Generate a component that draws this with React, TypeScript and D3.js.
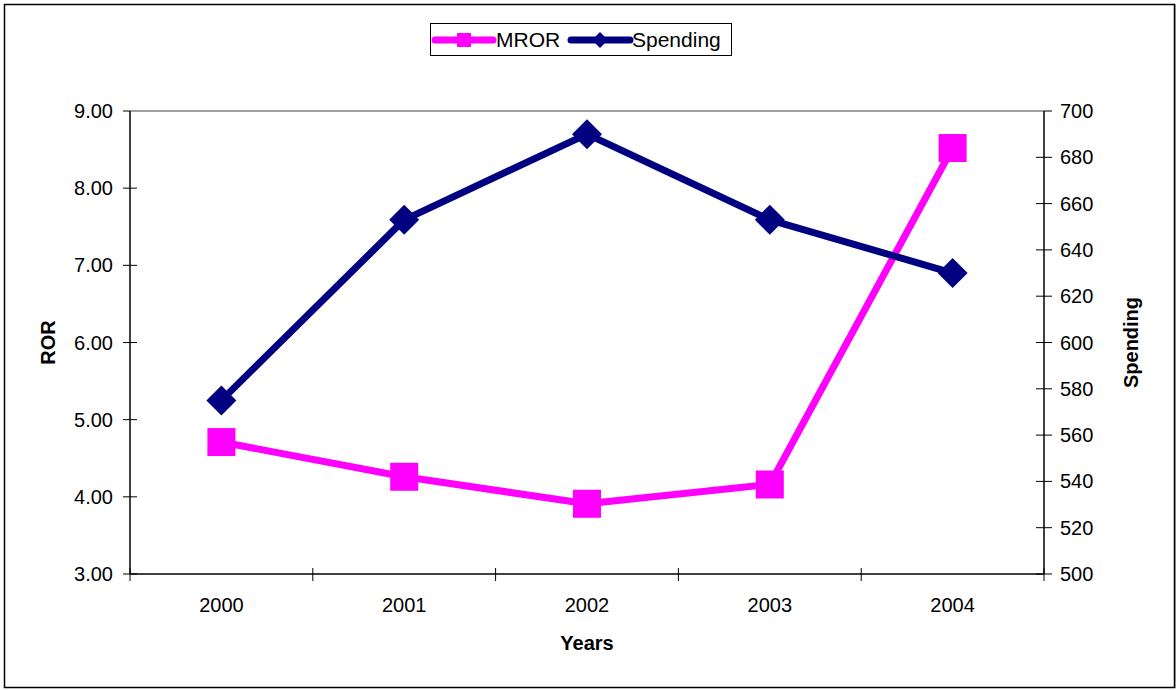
import React from "react";
import * as d3 from "d3";

const years = ["2000", "2001", "2002", "2003", "2004"];
const mror = [4.71, 4.26, 3.91, 4.16, 8.52];
const spending = [575, 653, 690, 653, 630];
const leftTicks = [3, 4, 5, 6, 7, 8, 9];
const rightTicks = [500, 520, 540, 560, 580, 600, 620, 640, 660, 680, 700];

const W = 1176;
const H = 690;
const L = 130, R = 1044, T = 111, B = 574;
const FONT = "'Liberation Sans', Arial, sans-serif";
const MAG = "#ff00ff";
const NAVY = "#000080";

export default function App() {
  const x = d3.scaleBand<string>().domain(years).range([L, R]);
  const yL = d3.scaleLinear().domain([3, 9]).range([B, T]);
  const yR = d3.scaleLinear().domain([500, 700]).range([B, T]);
  const cx = (y: string) => (x(y) as number) + x.bandwidth() / 2;

  const lineL = d3.line<number>().x((_, i) => cx(years[i])).y((d) => yL(d));
  const lineR = d3.line<number>().x((_, i) => cx(years[i])).y((d) => yR(d));

  const boundaries = years.map((y) => x(y) as number).concat([R]);
  const sq = 28;
  const dia = 15;

  return (
    <svg width={W} height={H} style={{ position: "absolute", left: 0, top: 0, background: "#fff" }} fontFamily={FONT}>
      <rect x={1175} y={4} width={1} height={684} fill="#bbb" />
      <rect x={4.5} y={4.5} width={1170} height={683} fill="#fff" stroke="#000" strokeWidth={1.5} />
      {/* plot top border */}
      <line x1={L} x2={R} y1={T} y2={T} stroke="#808080" strokeWidth={1.5} />
      {/* axes */}
      <line x1={L} x2={L} y1={T} y2={B} stroke="#000" strokeWidth={1.5} />
      <line x1={R} x2={R} y1={T} y2={B} stroke="#000" strokeWidth={1.5} />
      <line x1={L} x2={R} y1={B} y2={B} stroke="#000" strokeWidth={1.5} />
      {leftTicks.map((t) => (
        <g key={"l" + t}>
          <line x1={L - 7} x2={t === 9 ? L : L + 7} y1={yL(t)} y2={yL(t)} stroke="#000" strokeWidth={1} />
          <text x={L - 17} y={yL(t)} dy="0.35em" textAnchor="end" fontSize={20}>{t.toFixed(2)}</text>
        </g>
      ))}
      {rightTicks.map((t) => (
        <g key={"r" + t}>
          <line x1={t === 700 ? R : R - 8} x2={R + 8} y1={yR(t)} y2={yR(t)} stroke="#000" strokeWidth={1} />
          <text x={R + 16} y={yR(t)} dy="0.35em" textAnchor="start" fontSize={20}>{t}</text>
        </g>
      ))}
      {boundaries.map((b, i) => (
        <line key={"b" + i} x1={b} x2={b} y1={B - 6} y2={B + 7} stroke="#000" strokeWidth={1} />
      ))}
      {years.map((y) => (
        <text key={y} x={cx(y)} y={612} textAnchor="middle" fontSize={20}>{y}</text>
      ))}
      <text x={(L + R) / 2} y={650} textAnchor="middle" fontSize={20} fontWeight="bold">Years</text>
      <text transform={`translate(55,${(T + B) / 2}) rotate(-90)`} textAnchor="middle" fontSize={20} fontWeight="bold">ROR</text>
      <text transform={`translate(1138,${(T + B) / 2}) rotate(-90)`} textAnchor="middle" fontSize={20} fontWeight="bold">Spending</text>

      {/* series */}
      <path d={lineL(mror) || ""} fill="none" stroke={MAG} strokeWidth={7} strokeLinejoin="round" />
      {mror.map((v, i) => (
        <rect key={"m" + i} x={cx(years[i]) - sq / 2} y={yL(v) - sq / 2} width={sq} height={sq} fill={MAG} />
      ))}
      <path d={lineR(spending) || ""} fill="none" stroke={NAVY} strokeWidth={7} strokeLinejoin="round" />
      {spending.map((v, i) => {
        const px = cx(years[i]);
        const py = yR(v);
        return (
          <polygon key={"s" + i} points={`${px},${py - dia} ${px + dia},${py} ${px},${py + dia} ${px - dia},${py}`} fill={NAVY} />
        );
      })}

      {/* legend */}
      <rect x={430.5} y={23.5} width={301} height={32} fill="#fff" stroke="#000" strokeWidth={1} />
      <line x1={435} x2={493} y1={40} y2={40} stroke={MAG} strokeWidth={7} strokeLinecap="round" />
      <rect x={457} y={33} width={14} height={14} fill={MAG} />
      <text x={496} y={40} dy="0.35em" fontSize={21}>MROR</text>
      <line x1={571} x2={630} y1={40} y2={40} stroke={NAVY} strokeWidth={7} strokeLinecap="round" />
      <polygon points="600,32 608,40 600,48 592,40" fill={NAVY} />
      <text x={632} y={40} dy="0.35em" fontSize={21}>Spending</text>
    </svg>
  );
}
